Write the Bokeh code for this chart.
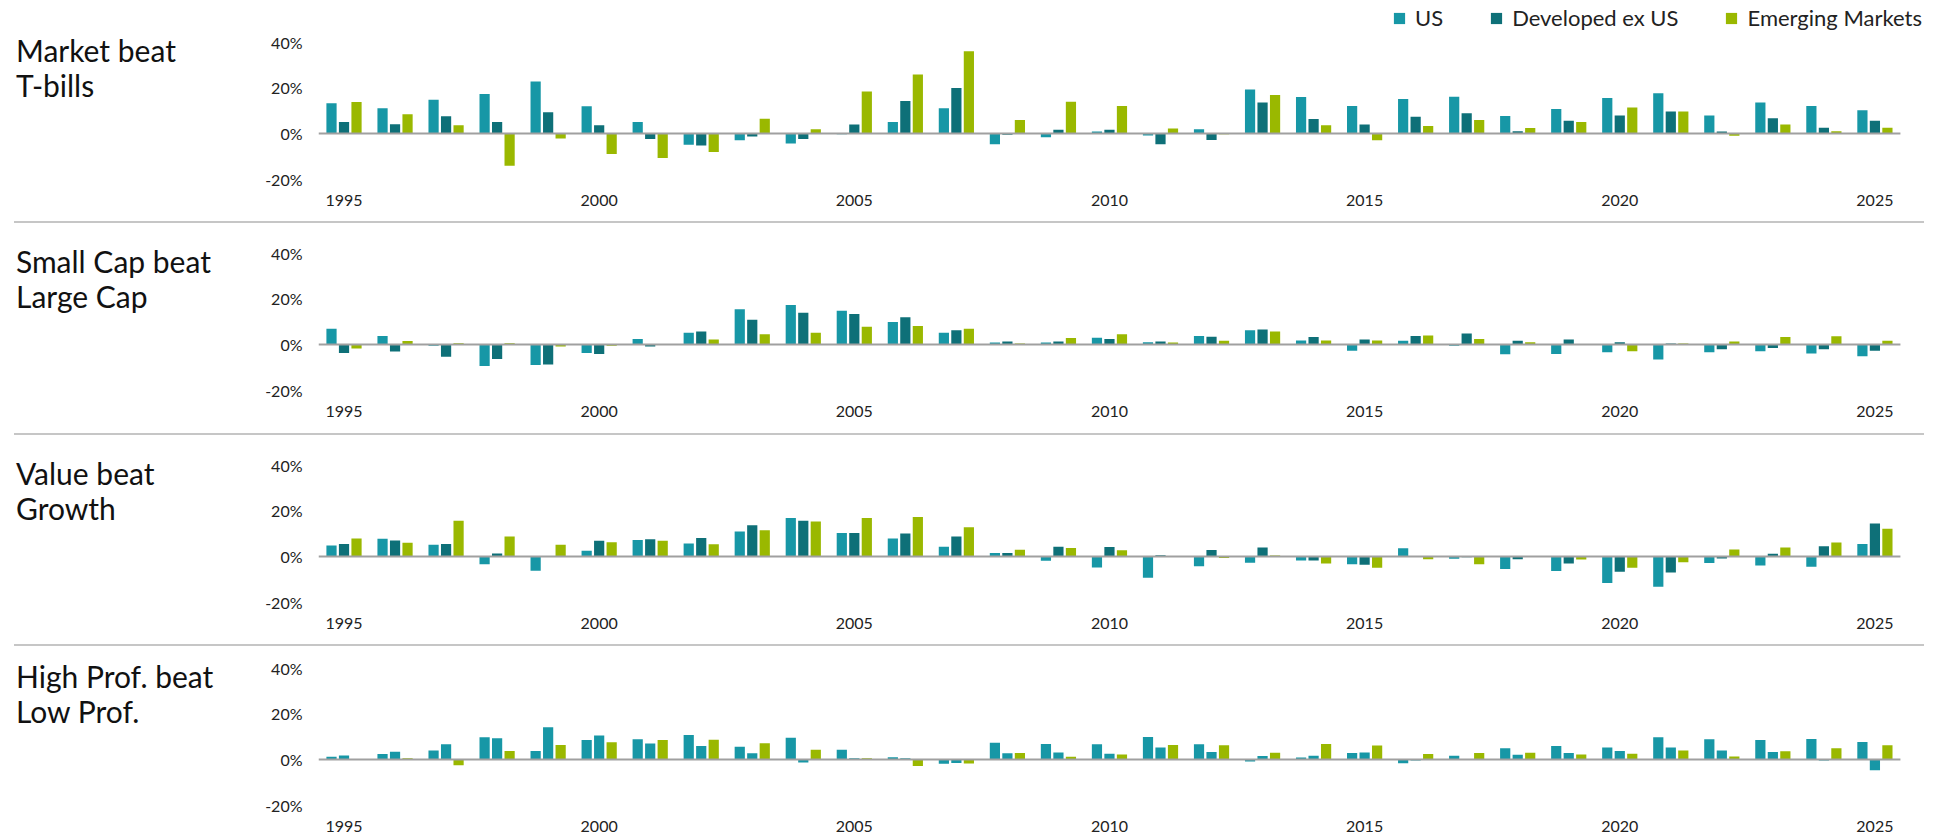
from bokeh.plotting import figure
from bokeh.models import (ColumnDataSource, Range1d, FixedTicker, PrintfTickFormatter,
                          Legend, LegendItem, Div)
from bokeh.layouts import column, row
from bokeh.transform import dodge
from bokeh.embed import file_html
from bokeh.resources import INLINE

# ---------------- data ----------------
years = [1995, 1996, 1997, 1998, 1999, 2000, 2001, 2002, 2003, 2004,
         2005, 2006, 2007, 2008, 2009, 2010, 2011, 2012, 2013, 2014,
         2015, 2016, 2017, 2018, 2019, 2020, 2021, 2022, 2023, 2024, 2025]
year_ticks = [1995, 2000, 2005, 2010, 2015, 2020, 2025]
pct_ticks = [-20, 0, 20, 40]
series_names = ["US", "Developed ex US", "Emerging Markets"]

market_us = [13.3, 11.1, 14.8, 17.3, 22.8, 11.9, 5.0, -4.9, -3.0, -4.4, -0.3, 5.0, 11.1, -4.7, -1.6, 0.9,
             -0.9, 1.9, 19.3, 16.0, 12.1, 15.1, 16.1, 7.7, 10.8, 15.6, 17.6, 7.9, 13.6, 12.1, 10.2]
market_dev = [5.0, 4.1, 7.6, 5.0, 9.3, 3.6, -2.4, -5.3, -1.3, -2.4, 4.0, 14.2, 20.0, -0.6, 1.6, 1.6,
              -4.7, -2.8, 13.6, 6.4, 3.9, 7.3, 8.9, 1.0, 5.6, 7.9, 9.6, 0.9, 6.7, 2.5, 5.6]
market_em = [13.8, 8.4, 3.6, -14.1, -2.2, -9.0, -10.8, -8.1, 6.5, 1.9, 18.4, 25.9, 36.1, 5.9, 13.9, 12.1,
             2.2, -0.3, 16.9, 3.6, -3.0, 3.3, 5.9, 2.4, 5.0, 11.4, 9.6, -1.0, 3.9, 1.0, 2.5]

size_us = [6.9, 3.7, -0.6, -9.4, -9.0, -3.7, 2.4, 5.2, 15.5, 17.3, 14.8, 9.9, 5.2, 0.9, 0.9, 3.0,
           1.0, 3.7, 6.3, 1.8, -2.7, 1.6, -0.6, -4.3, -4.2, -3.4, -6.6, -3.4, -3.0, -3.9, -5.1]
size_dev = [-3.7, -3.1, -5.4, -6.4, -8.8, -4.2, -0.9, 5.7, 10.9, 13.9, 13.4, 11.9, 6.3, 1.3, 1.3, 2.4,
            1.3, 3.4, 6.6, 3.3, 2.2, 3.7, 4.8, 1.6, 2.2, 1.0, 0.4, -2.1, -1.5, -2.1, -2.7]
size_em = [-1.8, 1.5, 0.6, 0.6, -0.9, -0.6, 0.2, 2.2, 4.5, 5.1, 7.8, 8.1, 6.9, 0.4, 2.8, 4.5,
           0.9, 1.6, 5.7, 1.8, 1.8, 4.0, 2.4, 1.0, -0.2, -3.0, 0.4, 1.3, 3.3, 3.6, 1.6]

value_us = [4.8, 7.8, 5.2, -3.4, -6.3, 2.5, 7.2, 5.7, 11.0, 16.9, 10.3, 7.9, 4.3, 1.5, -1.9, -4.8,
            -9.3, -4.3, -2.7, -1.8, -3.4, 3.6, -1.0, -5.5, -6.4, -11.6, -13.3, -2.8, -3.9, -4.5, 5.5]
value_dev = [5.5, 7.0, 5.5, 1.3, 0.0, 6.9, 7.6, 8.1, 13.7, 15.7, 10.3, 10.1, 8.8, 1.5, 4.3, 4.2,
             0.6, 2.8, 4.0, -1.8, -3.6, 0.2, -0.3, -1.2, -3.1, -6.7, -7.0, -0.9, 1.2, 4.5, 14.5]
value_em = [7.9, 6.0, 15.7, 8.8, 5.1, 6.3, 6.9, 5.4, 11.5, 15.4, 16.9, 17.3, 12.8, 3.0, 3.7, 2.7,
            0.2, -0.7, 0.4, -3.1, -4.9, -1.2, -3.4, 0.2, -1.3, -4.9, -2.5, 3.1, 3.9, 6.1, 12.2]

prof_us = [1.2, 2.4, 4.0, 9.8, 3.7, 8.6, 8.9, 10.7, 5.6, 9.5, 4.3, 1.0, -1.9, 7.4, 6.8, 6.7,
           9.9, 6.7, -0.9, 0.9, 2.8, -1.6, 1.6, 4.9, 5.9, 5.3, 9.8, 8.9, 8.6, 9.0, 7.7]
prof_dev = [1.8, 3.4, 6.7, 9.3, 14.1, 10.5, 7.0, 5.9, 2.7, -1.3, 0.6, 0.6, -1.5, 2.7, 3.1, 2.5,
            5.3, 3.3, 1.5, 1.6, 3.1, -0.4, 0.1, 2.1, 2.8, 3.7, 5.3, 4.0, 3.3, -0.4, -4.7]
prof_em = [0.0, 0.6, -2.5, 3.7, 6.4, 7.6, 8.6, 8.7, 7.1, 4.3, 0.6, -2.8, -1.8, 2.8, 1.2, 2.2,
           6.4, 6.2, 3.0, 6.8, 6.1, 2.4, 2.8, 3.0, 2.2, 2.5, 4.0, 1.3, 3.6, 4.9, 6.2]

panel_titles = [("Market beat", "T-bills"),
                ("Small Cap beat", "Large Cap"),
                ("Value beat", "Growth"),
                ("High Prof. beat", "Low Prof.")]
panel_data = [(market_us, market_dev, market_em),
              (size_us, size_dev, size_em),
              (value_us, value_dev, value_em),
              (prof_us, prof_dev, prof_em)]

# ---------------- style / layout ----------------
C_US = "#1797A6"
C_DEV = "#0E7078"
C_EM = "#9AB800"
panel_colors = [(C_US, C_DEV, C_EM), (C_US, C_DEV, C_EM), (C_US, C_DEV, C_EM), (C_US, C_US, C_EM)]
FONT = "Lato"
K = 2.28                 # px per percentage point
PX_PER_YEAR = 51.03
W = 1932
W_TITLE = 248
BORDER_L = 70
BORDER_R = 2
FRAME_W = W - W_TITLE - BORDER_L - BORDER_R
X_START = years[0] - 0.5            # axis (zero line) start
X_END = years[-1] + 0.5             # axis (zero line) end
X_FRAME_END = X_START + FRAME_W / PX_PER_YEAR   # frame extends a bit further for the legend
LEGEND_TOP = 8           # legend top offset from figure top (px)

# (figure height, frame top, zero y, frame bottom, x label standoff)
specs = [(221, 0, 133, 181, 7),
         (210, 4, 121, 169, 7),
         (209, 4, 121, 169, 7),
         (188, 4, 113, 161, 7)]

children = []
for i, (H, T, Z, B, so) in enumerate(specs):
    y_hi = (Z - T) / K
    y_lo = -(B - Z) / K
    p = figure(width=W - W_TITLE, height=H, x_range=Range1d(X_START, X_FRAME_END),
               y_range=Range1d(y_lo, y_hi),
               output_backend="svg", toolbar_location=None,
               min_border_left=BORDER_L, min_border_right=BORDER_R,
               min_border_top=T, min_border_bottom=H - B,
               outline_line_color=None, border_fill_color="white", background_fill_color="white")
    p.xgrid.visible = False
    p.ygrid.visible = False

    us, dev, em = panel_data[i]
    src = ColumnDataSource(dict(year=years, us=us, dev=dev, em=em))
    cu, cd, ce = panel_colors[i]
    r1 = p.vbar(x=dodge("year", -0.245, range=p.x_range), top="us", width=0.2, source=src,
                fill_color=cu, line_color=None)
    r2 = p.vbar(x=dodge("year", 0.0, range=p.x_range), top="dev", width=0.2, source=src,
                fill_color=cd, line_color=None)
    r3 = p.vbar(x=dodge("year", 0.245, range=p.x_range), top="em", width=0.2, source=src,
                fill_color=ce, line_color=None)

    # zero baseline spanning the axis extent
    p.segment(x0=[X_START], y0=[0], x1=[X_END], y1=[0], line_color="#a0a0a0", line_width=2)

    xa = p.xaxis[0]
    xa.ticker = FixedTicker(ticks=year_ticks)
    xa.axis_line_color = None
    xa.major_tick_line_color = None
    xa.minor_tick_line_color = None
    xa.major_label_standoff = so
    xa.major_label_text_font = FONT
    xa.major_label_text_font_size = "16px"
    xa.major_label_text_color = "#222222"

    ya = p.yaxis[0]
    ya.ticker = FixedTicker(ticks=pct_ticks)
    ya.formatter = PrintfTickFormatter(format="%d%%")
    ya.axis_line_color = None
    ya.major_tick_line_color = None
    ya.minor_tick_line_color = None
    ya.major_tick_out = 0
    ya.major_tick_in = 0
    ya.major_label_standoff = 16
    ya.major_label_text_font = FONT
    ya.major_label_text_font_size = "16px"
    ya.major_label_text_color = "#222222"

    if i == 0:
        legend = Legend(items=[LegendItem(label=series_names[0], renderers=[r1]),
                               LegendItem(label=series_names[1], renderers=[r2]),
                               LegendItem(label=series_names[2], renderers=[r3])],
                        orientation="horizontal", location=(1074, (B - LEGEND_TOP) - 23),
                        glyph_width=14, glyph_height=14, label_standoff=9, spacing=46,
                        padding=0, margin=0, border_line_color=None, background_fill_alpha=0,
                        label_text_font=FONT, label_text_font_size="22px",
                        label_text_color="#222222", label_height=14)
        p.add_layout(legend)

    t1, t2 = panel_titles[i]
    top_margin = (Z - 75) - 25
    title_html = (f'<div style="margin-top:{top_margin:.1f}px; margin-left:16px; '
                  f'font-family:Lato; font-size:30px; line-height:35px; color:#111111; '
                  f'white-space:nowrap;">{t1}<br>{t2}</div>')
    title_div = Div(text=title_html, width=W_TITLE, height=H, margin=(0, 0, 0, 0))

    children.append(row(title_div, p, spacing=0))
    if i < 3:
        children.append(Div(text="", width=1910, height=2, margin=(0, 0, 0, 14),
                            styles={"background-color": "#c6c6c6"}))

layout = column(children, spacing=0)
open("out.html", "w").write(file_html(layout, INLINE, title="Premiums"))
